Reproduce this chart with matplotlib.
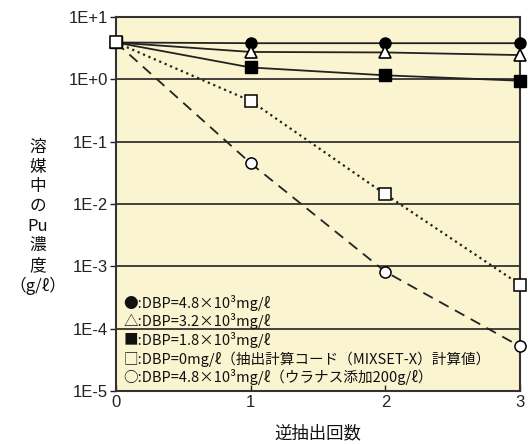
import matplotlib
matplotlib.use("Agg")
import matplotlib.pyplot as plt
import numpy as np

plt.rcParams['font.family'] = ['Liberation Sans', 'Noto Sans CJK JP', 'DejaVu Sans']

x = [0, 1, 2, 3]
dbp48 = [3.9, 3.8, 3.8, 3.8]
dbp32 = [3.9, 2.75, 2.7, 2.45]
dbp18 = [3.9, 1.55, 1.16, 0.95]
dbp0 = [3.9, 0.45, 0.0143, 5.1e-4]
dbp48u = [3.9, 0.045, 8.2e-4, 5.2e-5]

yticks = [1e1, 1e0, 1e-1, 1e-2, 1e-3, 1e-4, 1e-5]
yticklabels = ['1E+1', '1E+0', '1E-1', '1E-2', '1E-3', '1E-4', '1E-5']
xticks = [0, 1, 2, 3]

legend_lines = [
    '●:DBP=4.8×10³mg/ℓ',
    '△:DBP=3.2×10³mg/ℓ',
    '■:DBP=1.8×10³mg/ℓ',
    '□:DBP=0mg/ℓ（抽出計算コード（MIXSET-X）計算値）',
    '○:DBP=4.8×10³mg/ℓ（ウラナス添加200g/ℓ）',
]

fig = plt.figure(figsize=(5.29, 4.44), dpi=100)
ax = fig.add_axes([116/529, 53/444, 404/529, 374/444])
ax.set_facecolor('#FAF5D0')
ax.set_yscale('log')
ax.set_xlim(0, 3)
ax.set_ylim(1e-5, 1e1)

for yv in yticks[1:-1]:
    ax.axhline(yv, color='#222222', lw=1.2, zorder=1)

lc = '#222222'
ax.plot(x, dbp48u, '--', color=lc, lw=1.3, dashes=(6, 4), marker='o', ms=8, mfc='white', mec='black', mew=1.1, zorder=4, clip_on=False)
ax.plot(x, dbp48, '-', color=lc, lw=1.3, marker='o', ms=8, mfc='black', mec='black', zorder=3, clip_on=False)
ax.plot(x, dbp32, '-', color=lc, lw=1.3, marker='^', ms=8, mfc='white', mec='black', mew=1.2, zorder=3, clip_on=False)
ax.plot(x, dbp18, '-', color=lc, lw=1.3, marker='s', ms=8, mfc='black', mec='black', zorder=3, clip_on=False)
ax.plot(x, dbp0, ':', color=lc, lw=1.6, marker='s', ms=8, mfc='white', mec='black', mew=1.1, zorder=5, clip_on=False)

ax.set_yticks(yticks)
ax.set_yticklabels(yticklabels)
ax.minorticks_off()
ax.set_xticks(xticks)
ax.set_xticklabels([str(v) for v in xticks])
ax.tick_params(axis='y', direction='out', length=4, width=1, labelsize=12, pad=2, colors='#222222')
ax.tick_params(axis='x', direction='in', length=4, width=1, labelsize=12, pad=3, colors='#222222')
for s in ax.spines.values():
    s.set_color('#333333')
    s.set_linewidth(1.5)

fs = 10.5
y0 = 0.222
step = 0.0495
for i, t in enumerate(legend_lines):
    ax.text(0.018, y0 - i * step, t, transform=ax.transAxes, fontsize=fs,
            family=['Noto Sans CJK JP', 'DejaVu Sans'], va='baseline', ha='left', color='#111111')

fig.text(318/529, 1 - 433/444, '逆抽出回数', ha='center', va='center', fontsize=12.5,
         family=['Noto Sans CJK JP', 'DejaVu Sans'], color='#111111')
fig.text(38/529, 1 - 217/444, '溶\n媒\n中\nの\nPu\n濃\n度\n（g/ℓ）', ha='center', va='center',
         fontsize=12, family=['Noto Sans CJK JP', 'DejaVu Sans'], linespacing=1.2, color='#111111')

fig.savefig('out.png', dpi=100)
